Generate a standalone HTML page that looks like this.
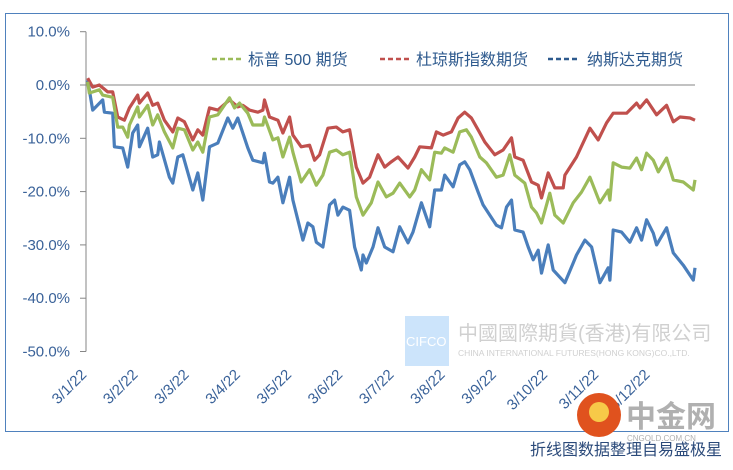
<!DOCTYPE html>
<html><head><meta charset="utf-8"><style>
body{margin:0;background:#fff;width:733px;height:465px;overflow:hidden;font-family:"Liberation Sans","Noto Sans CJK SC",sans-serif}
svg text{font-family:"Liberation Sans","Noto Sans CJK SC",sans-serif}
</style></head><body>
<svg id="chart" width="733" height="465" xmlns="http://www.w3.org/2000/svg">
<rect x="5.5" y="13.5" width="723" height="418" fill="#fff" stroke="#4f81bd" stroke-width="1"/>
<g id="axes"></g>
<g id="series"></g>
<g font-size="16" fill="#2e5a8e">
 <line x1="212" y1="59" x2="241" y2="59" stroke="#9bbb59" stroke-width="2.5" stroke-dasharray="5,3"/>
 <text x="248" y="65">标普 500 期货</text>
 <line x1="380" y1="59" x2="409" y2="59" stroke="#c0504d" stroke-width="2.5" stroke-dasharray="5,3"/>
 <text x="416" y="65">杜琼斯指数期货</text>
 <line x1="548" y1="59" x2="577" y2="59" stroke="#2e5a8e" stroke-width="2.5" stroke-dasharray="5,3"/>
 <text x="587" y="65">纳斯达克期货</text>
</g>
<g>
 <rect x="405" y="316" width="44" height="50" fill="#cce4fb"/>
 <text x="406" y="346" font-size="13" fill="#fff" font-family="Liberation Serif,serif">CIFCO</text>
 <text x="458" y="340" font-size="20" fill="#d0d0d0">中國國際期貨(香港)有限公司</text>
 <text x="458" y="356" font-size="8.5" fill="#d0d0d0">CHINA INTERNATIONAL FUTURES(HONG KONG)CO.,LTD.</text>
</g>
<g>
 <circle cx="599" cy="415" r="22" fill="#e0521e"/>
 <circle cx="599" cy="412" r="10" fill="#f7c948"/>
 <text x="626" y="427" font-size="30" font-weight="bold" fill="#b0b0b0">中金网</text>
 <text x="627" y="441" font-size="8" fill="#b0b0b0">CNGOLD.COM.CN</text>
</g>
<text x="722" y="455" text-anchor="end" font-size="16" fill="#2b4a7a">折线图数据整理自易盛极星</text>
</svg>
<script>
const yTicks=[10,0,-10,-20,-30,-40,-50];
const xTickLabels=["3/1/22","3/2/22","3/3/22","3/4/22","3/5/22","3/6/22","3/7/22","3/8/22","3/9/22","3/10/22","3/11/22","3/12/22"];
const spDays=[1,2,8,10,16,19,22,25,26,31,32,37,40,43,47,52,55,59,64,67,70,74,79,86,89,92,97,100,106,107,112,115,118,122,124,129,134,138,142,146,150,154,158,162,166,171,175,180,184,188,194,197,201,206,209,213,215,220,224,228,231,236,240,246,250,254,257,263,267,270,273,278,281,286,292,297,302,308,313,314,316,321,326,330,333,336,340,343,348,352,358,364,365];
const spVals=[0.6,-1.5,-0.9,-1.9,-2.3,-7.9,-7.9,-9.8,-7.5,-4.1,-6.0,-3.8,-7.5,-5.6,-8.8,-11.8,-8.1,-8.4,-12.2,-10.7,-12.6,-6.0,-5.6,-2.4,-4.3,-3.4,-5.3,-7.5,-7.5,-6.0,-10.3,-9.9,-13.5,-9.8,-12.6,-18.2,-15.9,-18.8,-16.9,-12.6,-12.2,-13.1,-12.6,-21.0,-24.4,-22.1,-18.2,-21.0,-20.3,-18.4,-21.0,-19.7,-15.9,-17.8,-12.6,-12.8,-11.8,-12.6,-8.8,-8.4,-9.8,-13.5,-14.6,-17.3,-16.9,-13.1,-16.9,-18.4,-22.9,-24.0,-25.9,-20.3,-24.4,-25.9,-22.1,-20.1,-17.3,-22.1,-19.7,-21.6,-14.6,-15.4,-15.6,-13.7,-15.9,-12.8,-14.1,-16.3,-13.7,-17.8,-18.2,-19.7,-17.8];
const dowDays=[1,4,8,13,16,19,23,26,31,32,37,40,43,47,52,55,59,64,67,70,74,79,86,91,94,98,103,106,107,110,115,118,122,124,129,134,137,140,145,150,154,158,162,166,170,175,179,183,187,193,197,200,207,210,214,219,223,227,231,235,239,245,250,255,257,262,267,271,273,277,281,286,287,294,302,307,312,316,324,330,332,336,342,348,352,356,362,365];
const dowVals=[1.3,-0.4,0,-1.3,-1.3,-6.0,-6.6,-4.3,-1.9,-3.4,-1.5,-3.8,-3.4,-6.6,-8.8,-6.2,-6.9,-10.3,-8.4,-9.4,-4.3,-4.7,-2.8,-4.1,-3.8,-4.7,-5.1,-4.7,-2.8,-6.0,-6.6,-9.0,-6.0,-9.4,-11.6,-11.3,-14.1,-13.1,-8.1,-7.9,-8.8,-8.4,-15.4,-18.4,-17.3,-13.1,-15.4,-14.4,-13.5,-15.6,-13.5,-11.6,-11.8,-8.8,-9.4,-8.8,-6.2,-5.1,-6.2,-8.4,-10.7,-13.1,-12.2,-9.9,-13.5,-14.1,-18.2,-18.8,-21.2,-16.5,-19.3,-19.3,-16.9,-13.5,-8.1,-10.3,-7.1,-5.3,-5.3,-3.4,-4.3,-2.8,-5.6,-3.8,-6.9,-6.0,-6.2,-6.6];
const ndqDays=[1,4,10,11,16,17,22,25,28,31,32,37,40,43,44,50,52,55,58,64,67,70,74,79,85,88,91,97,100,106,107,110,112,115,118,122,124,128,130,133,136,138,142,146,149,151,154,158,161,165,166,168,172,175,179,184,188,193,196,201,206,209,213,215,220,224,227,230,235,238,246,249,252,255,257,262,265,268,271,273,277,280,287,292,294,299,303,308,313,314,316,321,326,330,333,336,340,342,348,352,358,364,365];
const ndqVals=[0.9,-4.7,-2.8,-5.1,-5.3,-11.6,-11.8,-15.4,-9.0,-7.5,-11.6,-8.1,-13.5,-13.1,-10.7,-17.3,-18.4,-13.5,-13.1,-19.7,-16.5,-21.6,-11.6,-10.9,-6.2,-8.1,-6.2,-11.8,-14.1,-14.6,-12.8,-18.2,-18.4,-17.3,-22.1,-17.3,-21.6,-26.6,-29.1,-25.9,-26.6,-29.5,-30.4,-22.5,-21.6,-24.4,-22.9,-23.5,-30.4,-34.7,-31.9,-33.4,-30.4,-26.8,-30.4,-31.3,-26.6,-29.6,-27.6,-22.1,-26.6,-19.7,-19.7,-16.9,-19.1,-15.0,-14.4,-15.9,-20.1,-22.5,-26.3,-26.8,-22.9,-21.6,-27.2,-27.6,-30.4,-32.8,-31.0,-35.3,-30.0,-34.7,-37.1,-33.4,-31.9,-29.1,-30.4,-37.1,-34.3,-36.6,-27.2,-27.6,-29.5,-26.8,-29.1,-25.3,-27.8,-30.0,-26.8,-31.5,-33.8,-36.6,-34.3];

const NS="http://www.w3.org/2000/svg";
const X0=86,X1=695,DMAX=365;
function xS(d){return X0+(X1-X0)*d/DMAX;}
function yS(v){return 85-v*5.33;}
function mk(tag,attrs,parent){const e=document.createElementNS(NS,tag);for(const k in attrs)e.setAttribute(k,attrs[k]);parent.appendChild(e);return e;}
const axes=document.getElementById('axes');
const ya=mk('line',{x1:X0,y1:yS(10),x2:X0,y2:yS(-50),stroke:'#868686','stroke-width':1},axes);


const zl=mk('line',{x1:X0,y1:yS(0),x2:X1,y2:yS(0),stroke:'#868686','stroke-width':1},axes);


yTicks.forEach(v=>{
 const t=mk('line',{x1:X0-6,y1:yS(v),x2:X0,y2:yS(v),stroke:'#868686'},axes);
 
 
 const l=mk('text',{x:70,y:yS(v)+5,'text-anchor':'end','font-size':15,fill:'#3a6299'},axes);
 
 
 l.textContent=v.toFixed(1)+'%';
});
xTickLabels.forEach((s,i)=>{
 const x=80+i*51.2,y=368;
 const l=mk('text',{x:x,y:y,'text-anchor':'end','font-size':15,fill:'#3a6299',transform:`rotate(-45 ${x} ${y})`,dy:'0.7em'},axes);
 
 
 l.textContent=s;
});
const sg=document.getElementById('series');
function draw(days,vals,color,name){
 const d=days.map((dd,i)=>(i?'L':'M')+xS(dd).toFixed(1)+' '+yS(vals[i]).toFixed(1)).join(' ');
 const p=mk('path',{d:d,fill:'none',stroke:color,'stroke-width':3.2,'stroke-linejoin':'round'},sg);
 
 
}
draw(ndqDays,ndqVals,'#4a7ebb','series-nasdaq');
draw(dowDays,dowVals,'#c0504d','series-dow');
draw(spDays,spVals,'#9bbb59','series-sp500');
</script>
</body></html>
